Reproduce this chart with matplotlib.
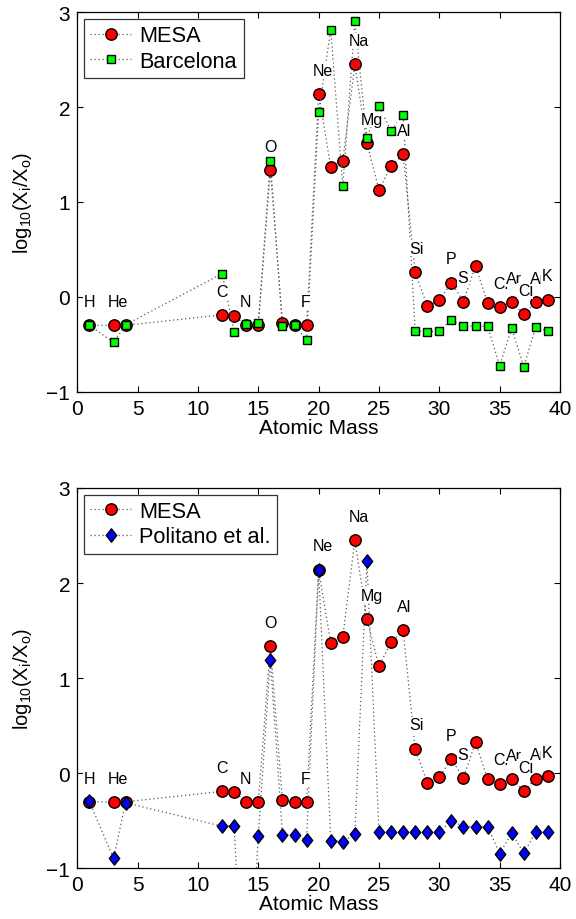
import numpy as np
import matplotlib
matplotlib.use("Agg")
import matplotlib.pyplot as plt
from matplotlib.path import Path

plt.rcParams['font.family'] = ['Liberation Sans', 'DejaVu Sans']
plt.rcParams['mathtext.fontset'] = 'custom'
plt.rcParams['mathtext.rm'] = 'Liberation Sans'
plt.rcParams['mathtext.it'] = 'Liberation Sans'

# ---- data ----
mass = [1, 3, 4, 12, 13, 14, 15, 16, 17, 18, 19, 20, 21, 22, 23, 24, 25, 26, 27,
        28, 29, 30, 31, 32, 33, 34, 35, 36, 37, 38, 39]
mesa = [-0.30, -0.30, -0.30, -0.19, -0.20, -0.30, -0.30, 1.34, -0.28, -0.30, -0.30,
        2.14, 1.37, 1.435, 2.45, 1.62, 1.126, 1.376, 1.505,
        0.26, -0.097, -0.037, 0.149, -0.05, 0.33, -0.065, -0.11, -0.058, -0.185, -0.055, -0.03]
barcelona = [-0.30, -0.48, -0.295, 0.245, -0.37, -0.29, -0.28, 1.43, -0.305, -0.30, -0.45,
             1.945, 2.816, 1.17, 2.905, 1.68, 2.01, 1.75, 1.92,
             -0.36, -0.37, -0.357, -0.245, -0.31, -0.31, -0.31, -0.726, -0.33, -0.737, -0.315, -0.364]
mass_pol = [1, 3, 4, 12, 13, 14, 15, 16, 17, 18, 19, 20, 21, 22, 23, 24, 25, 26, 27,
            28, 29, 30, 31, 32, 33, 34, 35, 36, 37, 38, 39]
politano = [-0.295, -0.894, -0.31, -0.557, -0.554, -3.0, -0.656, 1.19, -0.645, -0.645, -0.70,
            2.138, -0.708, -0.72, -0.635, 2.232, -0.614, -0.614, -0.614,
            -0.614, -0.614, -0.614, -0.498, -0.56, -0.56, -0.56, -0.845, -0.628, -0.84, -0.614, -0.614]
elem_names = ['H', 'He', 'C', 'N', 'O', 'F', 'Ne', 'Na', 'Mg', 'Al', 'Si', 'P', 'S',
              'Cl', 'Ar', 'Cl', 'Ar', 'K']
elem_mass = [1, 3, 12, 14, 16, 19, 20, 23, 24, 27, 28, 31, 32, 35, 36, 37, 38, 39]

xticks = [0, 5, 10, 15, 20, 25, 30, 35, 40]
yticks = [-1, 0, 1, 2, 3]

diamond = Path([(0, 1), (0.78, 0), (0, -1), (-0.78, 0), (0, 1)],
               [Path.MOVETO, Path.LINETO, Path.LINETO, Path.LINETO, Path.CLOSEPOLY])

fig = plt.figure(figsize=(5.76, 9.2), dpi=100)
ax1 = fig.add_axes([0.1342, 0.5732, 0.838, 0.4123])
ax2 = fig.add_axes([0.1342, 0.0550, 0.838, 0.4135])

lkw = dict(linestyle=(0, (1, 2.2)), color='0.35', lw=0.9)

def style(ax):
    ax.set_xlim(0, 40)
    ax.set_ylim(-1, 3)
    ax.set_xticks(xticks)
    ax.set_yticks(yticks)
    ax.tick_params(direction='in', length=4, width=0.8, top=True, right=True,
                   labelsize=15, pad=5)
    for s in ax.spines.values():
        s.set_linewidth(0.9)
    ax.set_xlabel('Atomic Mass', fontsize=15, labelpad=0)
    ax.set_ylabel(r'$\mathregular{log_{10}(X_i/X_o)}$', fontsize=14.5, labelpad=9)

def labels(ax):
    lookup = dict(zip(mass, mesa))
    for i, (n, m) in enumerate(zip(elem_names, elem_mass)):
        ax.text(m - 0.5, lookup[m] + 0.25, n, ha='left', va='center', fontsize=11.5,
                zorder=5 + i * 0.01,
                bbox=dict(facecolor='white', edgecolor='none', pad=0.3))

def legend(ax):
    leg = ax.legend(loc='upper left', fontsize=15.7, frameon=True, fancybox=False,
                    edgecolor='black', handlelength=1.85, borderaxespad=0.3,
                    borderpad=0.3, labelspacing=0.2, handletextpad=0.4)
    leg.get_frame().set_linewidth(0.9)
    leg.set_zorder(10)

# top panel
ax1.plot(mass, mesa, marker='o', ms=8.2, mfc='red', mec='black', mew=1.0,
         label='MESA', zorder=3, **lkw)
ax1.plot(mass, barcelona, marker='s', ms=6.2, mfc='#00ff00', mec='black', mew=1.0,
         label='Barcelona', zorder=4, **lkw)
style(ax1)
labels(ax1)
legend(ax1)

# bottom panel
ax2.plot(mass, mesa, marker='o', ms=8.2, mfc='red', mec='black', mew=1.0,
         label='MESA', zorder=3, **lkw)
ax2.plot(mass_pol, politano, marker=diamond, ms=9.6, mfc='blue', mec='black', mew=1.0,
         label='Politano et al.', zorder=4, **lkw)
style(ax2)
labels(ax2)
legend(ax2)

fig.savefig('out.png', dpi=100, facecolor='white')
